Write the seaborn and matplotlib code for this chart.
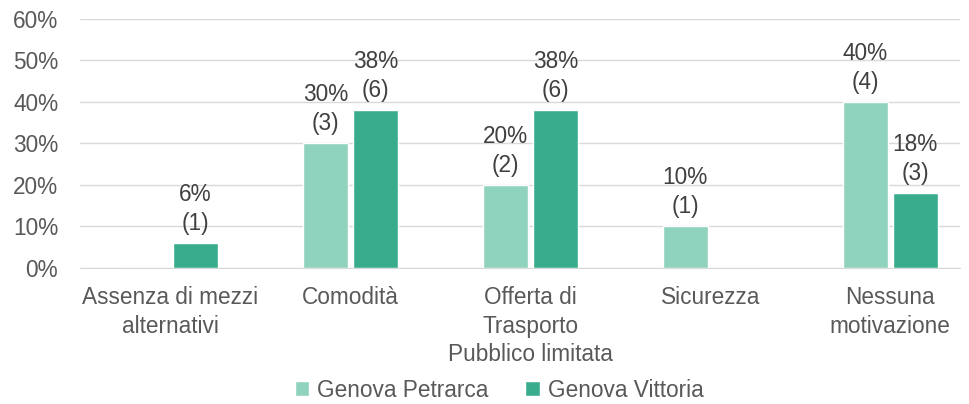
import pandas as pd
import matplotlib.pyplot as plt
import seaborn as sns

categories = ['Assenza di mezzi\nalternativi', 'Comodità', 'Offerta di\nTrasporto\nPubblico limitata',
              'Sicurezza', 'Nessuna\nmotivazione']
petrarca_pct = [0, 30, 20, 10, 40]
petrarca_n = [0, 3, 2, 1, 4]
vittoria_pct = [6, 38, 38, 0, 18]
vittoria_n = [1, 6, 6, 0, 3]
series = ['Genova Petrarca', 'Genova Vittoria']

df = pd.DataFrame({
    'cat': categories * 2,
    'pct': petrarca_pct + vittoria_pct,
    'n': petrarca_n + vittoria_n,
    'school': [series[0]] * 5 + [series[1]] * 5,
})

sns.set_style('white')
plt.rcParams['font.family'] = ['Liberation Sans', 'DejaVu Sans']
txt = '#595959'
fs = 16.3

fig, ax = plt.subplots(figsize=(9.69, 4.04), dpi=100)
fig.subplots_adjust(left=0.083, right=0.991, top=0.953, bottom=0.337)

sns.barplot(data=df, x='cat', y='pct', hue='school', order=categories, hue_order=series,
            palette=['#8fd3bf', '#3aac8e'], width=0.556, gap=0.1, ax=ax, legend=True,
            saturation=1)

# etichette sulle barre
for cont, pcts, ns in zip(ax.containers, [petrarca_pct, vittoria_pct], [petrarca_n, vittoria_n]):
    for bar, p, n in zip(cont, pcts, ns):
        if p == 0:
            continue
        ax.annotate(f'{p}%\n({n})', (bar.get_x() + bar.get_width() / 2, bar.get_height()),
                    xytext=(0, 6), textcoords='offset points', ha='center', va='bottom',
                    fontsize=fs, color='#404040', linespacing=1.32)

ax.set_ylim(0, 60)
ax.set_xlim(-0.5, 4.39)
ax.set_yticks(range(0, 61, 10))
ax.set_yticklabels([f'{v}%' for v in range(0, 61, 10)])
ax.yaxis.grid(True, color='#d9d9d9', linewidth=1)
ax.set_axisbelow(True)
for s in ['top', 'right', 'left']:
    ax.spines[s].set_visible(False)
ax.spines['bottom'].set_color('#d9d9d9')
ax.tick_params(axis='both', length=0, labelsize=fs, colors=txt)
ax.tick_params(axis='x', pad=13)
ax.tick_params(axis='y', pad=16)
for t in ax.get_xticklabels():
    t.set_linespacing(1.32)
ax.set_xlabel('')
ax.set_ylabel('')

h, l = ax.get_legend_handles_labels()
ax.get_legend().remove()
fig.legend(h, l, loc='lower center', ncol=2, frameon=False, fontsize=fs,
           bbox_to_anchor=(0.515, -0.045), handlelength=0.65, handleheight=0.65,
           handletextpad=0.35, columnspacing=1.6, labelcolor=txt)

fig.savefig('out.png', dpi=100)
